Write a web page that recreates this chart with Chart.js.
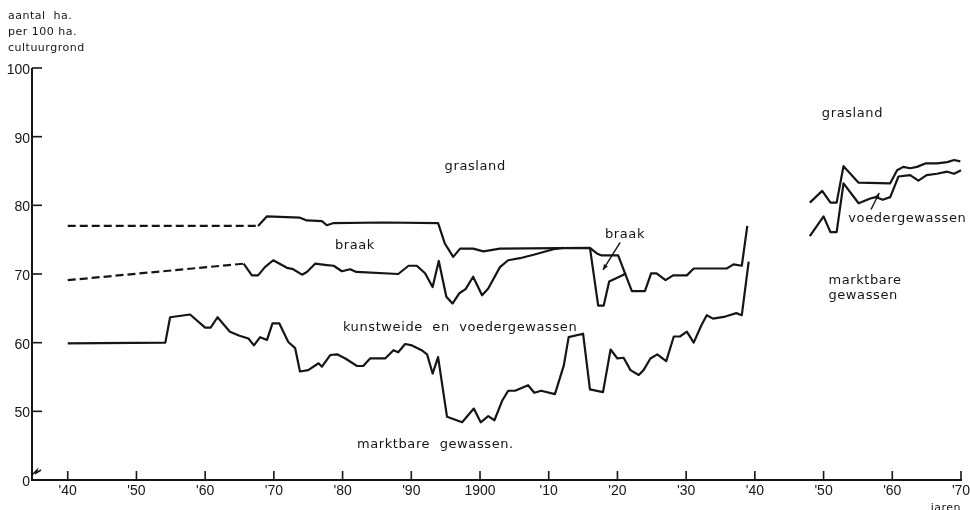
<!DOCTYPE html>
<html><head><meta charset="utf-8">
<script src="https://cdn.jsdelivr.net/npm/chart.js@4.4.0/dist/chart.umd.min.js"></script>
<style>html,body{margin:0;padding:0;background:#fff;}canvas{display:block;}</style>
</head><body>
<canvas id="c" width="970" height="510"></canvas>
<script>
// ---- tick labels ----
const xTicks = [1840,1850,1860,1870,1880,1890,1900,1910,1920,1930,1940,1950,1960,1970];
const xTickLabels = ["'40","'50","'60","'70","'80","'90","1900","'10","'20","'30","'40","'50","'60","'70"];
const yTicks = [40,50,60,70,80,90,100];          // 40 stands for the broken-axis zero
const yTickLabels = ["0","50","60","70","80","90","100"];

// ---- series: upper boundary of the non-grassland (grasland above this line) ----
const graslandYears = [1840,1867.7,1869,1873.8,1874.8,1877,1877.7,1878.6,1886,1893.9,1894.9,1896.1,1897.1,1899,1900.5,1902.9,1916,1917,1917.7,1920.1,1922.1,1924,1924.9,1925.7,1927,1928.1,1930.1,1931.1,1935.9,1936.9,1938.1,1938.9];
const graslandValues = [77.0,77.0,78.4,78.2,77.8,77.7,77.1,77.4,77.5,77.4,74.4,72.5,73.7,73.7,73.3,73.7,73.8,73.0,72.7,72.7,67.5,67.5,70.1,70.1,69.1,69.8,69.8,70.8,70.8,71.4,71.2,77.0];
const graslandDashedUntil = 1867.7;

// ---- braak lower boundary (kunstweide en voedergewassen above the next line) ----
const braakYears = [1840,1865.6,1866.8,1867.7,1868.7,1869.9,1871.9,1872.8,1874.1,1874.8,1876,1877.7,1878.7,1879.9,1881.1,1882,1888.1,1889.6,1890.8,1892,1893.1,1894,1895.1,1896,1897,1897.9,1899,1900.3,1901.2,1902.9,1904.1,1905.8,1907.8,1910.7,1912.1, null, 1916,1917.2,1918,1918.8,1920.9,1921.2];
const braakValues = [69.1,71.5,69.8,69.8,71.0,72.0,70.9,70.7,69.9,70.3,71.5,71.3,71.2,70.4,70.7,70.3,70.0,71.2,71.2,70.1,68.1,71.9,66.7,65.7,67.2,67.8,69.6,66.9,67.9,71.0,72.0,72.3,72.8,73.6,73.8, null, 73.8,65.4,65.4,68.9,69.9,70.2];
const braakDashedUntil = 1865.6;

// ---- marktbare gewassen upper boundary ----
const marktYears = [1840,1854.2,1854.9,1857.8,1860,1860.8,1861.8,1863.6,1865,1866.3,1867.1,1868,1869,1869.8,1870.8,1872.1,1873.1,1873.8,1875,1876.5,1877,1878.2,1879.2,1880.4,1882.1,1883,1884,1886.2,1887.4,1888.1,1889.1,1890.1,1891.5,1892.3,1893.1,1893.9,1895.2,1897.4,1899.1,1900.1,1901.2,1902.1,1903.2,1904.1,1905.1,1907,1907.9,1908.9,1910.9,1912.2,1912.9,1915,1916,1917.9,1919,1920,1920.9,1921.9,1923.1,1923.8,1924.8,1925.8,1927.1,1928.2,1929.1,1930.1,1931.1,1932.2,1933,1933.9,1935.7,1937.3,1938.1,1939.1];
const marktValues = [59.9,60.0,63.7,64.1,62.2,62.2,63.7,61.6,61.0,60.6,59.6,60.8,60.4,62.8,62.8,60.1,59.2,55.8,56.0,57.0,56.5,58.2,58.3,57.7,56.6,56.6,57.7,57.7,58.9,58.6,59.8,59.6,58.9,58.3,55.5,57.9,49.2,48.4,50.4,48.4,49.3,48.7,51.5,53.0,53.0,53.8,52.7,53.0,52.5,56.7,60.8,61.3,53.2,52.8,59.0,57.7,57.8,56.0,55.3,56.0,57.7,58.3,57.3,60.9,60.9,61.6,60.0,62.5,64.0,63.5,63.8,64.3,64.0,71.8];

// ---- post-war period ----
const gras2Years = [1948,1949.8,1951,1951.9,1952.9,1955.1,1959.7,1960.7,1961.6,1962.6,1963.6,1964.8,1966.5,1968,1969,1969.9];
const gras2Values = [80.4,82.1,80.4,80.4,85.7,83.3,83.2,85.1,85.6,85.4,85.6,86.1,86.1,86.3,86.6,86.4];
const markt2Years = [1948,1950,1951,1951.9,1952.9,1955.1,1956.8,1957.6,1958.6,1959.7,1960.9,1962.6,1963.8,1965,1966.5,1968,1969,1970];
const markt2Values = [75.5,78.4,76.1,76.1,83.2,80.3,81.0,81.2,80.8,81.2,84.2,84.4,83.6,84.4,84.6,84.9,84.6,85.1];

function pts(xs, ys){ return xs.map((x,i)=> x===null ? {x: NaN, y: null} : {x:x, y:ys[i]}); }

const FONT = '"DejaVu Sans", sans-serif';
const INK = '#151515';

const annotations = [
  {t:'grasland', x:1899.3, y:85.7, a:'center'},
  {t:'braak', x:1881.8, y:74.2, a:'center'},
  {t:'kunstweide  en  voedergewassen', x:1897.1, y:62.2, a:'center'},
  {t:'marktbare  gewassen.', x:1893.5, y:45.2, a:'center'},
  {t:'braak', x:1921.1, y:75.8, a:'center'},
  {t:'grasland', x:1954.2, y:93.3, a:'center'},
  {t:'voedergewassen', x:1953.6, y:78.1, a:'left'},
  {t:'marktbare', x:1950.7, y:69.0, a:'left'},
  {t:'gewassen', x:1950.7, y:66.8, a:'left'}
];
const arrows = [
  {x1:1920.4, y1:74.6, x2:1917.9, y2:70.6},
  {x1:1956.9, y1:79.4, x2:1958.1, y2:81.8}
];

const axisPlugin = {
  id:'axisPlugin',
  afterDatasetsDraw(chart){
    const ctx = chart.ctx, xs = chart.scales.x, ys = chart.scales.y;
    const L = xs.left, R = xs.right, T = ys.top, B = ys.bottom;
    ctx.save();
    ctx.strokeStyle = INK; ctx.fillStyle = INK;
    ctx.lineWidth = 2; ctx.lineCap = 'butt';
    // axes
    ctx.beginPath();
    ctx.moveTo(L, ys.getPixelForValue(100)); ctx.lineTo(L, B); ctx.lineTo(xs.getPixelForValue(1970)+1, B);
    ctx.stroke();
    // y ticks (inward)
    ctx.lineWidth = 1.6;
    yTicks.forEach((v,i)=>{
      const py = ys.getPixelForValue(v);
      if (v > 40){ ctx.beginPath(); ctx.moveTo(L, py); ctx.lineTo(L+10, py); ctx.stroke(); }
    });
    // x ticks (upward)
    xTicks.forEach(v=>{
      const px = xs.getPixelForValue(v);
      ctx.beginPath(); ctx.moveTo(px, B); ctx.lineTo(px, B-9); ctx.stroke();
    });
    // axis break mark
    ctx.lineWidth = 1.5;
    ctx.beginPath();
    ctx.moveTo(L, B-5); ctx.lineTo(L+5, B-10); ctx.lineTo(L+4, B-7); ctx.lineTo(L+9, B-10);
    ctx.stroke();
    // tick labels
    ctx.font = '14px "Liberation Sans", sans-serif';
    ctx.textAlign = 'right'; ctx.textBaseline = 'middle';
    yTicks.forEach((v,i)=>{
      ctx.fillText(yTickLabels[i], L-2, ys.getPixelForValue(v)+2);
    });
    ctx.textAlign = 'center'; ctx.textBaseline = 'middle';
    xTicks.forEach((v,i)=>{
      ctx.fillText(xTickLabels[i], xs.getPixelForValue(v), B+11);
    });
    // axis titles
    ctx.font = '11px ' + FONT;
    ctx.letterSpacing = '0.5px';
    ctx.textAlign = 'left';
    ctx.fillText('aantal  ha.', 8, 16);
    ctx.fillText('per 100 ha.', 8, 32);
    ctx.fillText('cultuurgrond', 8, 48);
    ctx.textAlign = 'right';
    ctx.fillText('jaren', R, B+28);
    // annotations
    ctx.font = '13px ' + FONT;
    ctx.letterSpacing = '0.6px';
    annotations.forEach(a=>{
      ctx.textAlign = a.a;
      ctx.fillText(a.t, xs.getPixelForValue(a.x), ys.getPixelForValue(a.y));
    });
    ctx.letterSpacing = '0px';
    // arrows
    ctx.lineWidth = 1.4;
    arrows.forEach(a=>{
      const x1 = xs.getPixelForValue(a.x1), y1 = ys.getPixelForValue(a.y1);
      const x2 = xs.getPixelForValue(a.x2), y2 = ys.getPixelForValue(a.y2);
      ctx.beginPath(); ctx.moveTo(x1,y1); ctx.lineTo(x2,y2); ctx.stroke();
      const ang = Math.atan2(y2-y1, x2-x1), h = 6;
      ctx.beginPath();
      ctx.moveTo(x2,y2);
      ctx.lineTo(x2 - h*Math.cos(ang-0.4), y2 - h*Math.sin(ang-0.4));
      ctx.lineTo(x2 - h*Math.cos(ang+0.4), y2 - h*Math.sin(ang+0.4));
      ctx.closePath(); ctx.fill();
    });
    ctx.restore();
  }
};

function ds(label, xsArr, ysArr, dashUntil){
  return {
    label, data: pts(xsArr, ysArr),
    borderColor: INK, borderWidth: 2.2, pointRadius: 0, tension: 0,
    borderJoinStyle: 'round', spanGaps: false, clip: false,
    segment: dashUntil ? { borderDash: c => (c.p1.parsed.x <= dashUntil + 0.001 ? [8,4] : undefined) } : undefined
  };
}

new Chart(document.getElementById('c'), {
  type: 'line',
  data: { datasets: [
    ds('grasland', graslandYears, graslandValues, graslandDashedUntil),
    ds('braak', braakYears, braakValues, braakDashedUntil),
    ds('marktbare gewassen', marktYears, marktValues, null),
    ds('grasland na 1945', gras2Years, gras2Values, null),
    ds('marktbare gewassen na 1945', markt2Years, markt2Values, null)
  ]},
  options: {
    responsive: false, animation: false, devicePixelRatio: 1,
    layout: { padding: { left: 32, right: 9, top: 68, bottom: 30 } },
    plugins: { legend: { display: false }, tooltip: { enabled: false } },
    scales: {
      x: { type: 'linear', min: 1834.8, max: 1970, display: false },
      y: { type: 'linear', min: 40, max: 100, display: false }
    }
  },
  plugins: [axisPlugin]
});
</script>
</body></html>
